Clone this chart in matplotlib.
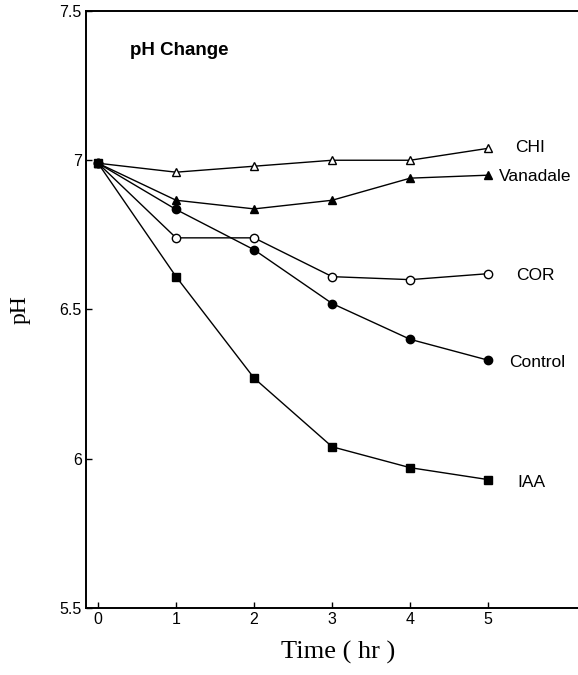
import matplotlib
matplotlib.use("Agg")
import matplotlib.pyplot as plt

# time points (hr) and pH readings
TIME = [0, 1, 2, 3, 4, 5]
CHI      = [6.99, 6.96, 6.98, 7.00, 7.00, 7.04]
VANADALE = [6.99, 6.866, 6.837, 6.866, 6.94, 6.95]
COR      = [6.99, 6.74, 6.74, 6.61, 6.60, 6.62]
CONTROL  = [6.99, 6.835, 6.70, 6.52, 6.40, 6.33]
IAA      = [6.99, 6.61, 6.27, 6.04, 5.97, 5.93]

SERIES = [
    ("CHI",      CHI,      "^", "white"),
    ("Vanadale", VANADALE, "^", "black"),
    ("COR",      COR,      "o", "white"),
    ("Control",  CONTROL,  "o", "black"),
    ("IAA",      IAA,      "s", "black"),
]
LABEL_POS = {
    "CHI":      (5.35, 7.044),
    "Vanadale": (5.14, 6.946),
    "COR":      (5.36, 6.614),
    "Control":  (5.27, 6.322),
    "IAA":      (5.37, 5.919),
}

SANS = ["Liberation Sans", "DejaVu Sans"]
SERIF = ["Liberation Serif", "DejaVu Serif"]

fig = plt.figure(figsize=(5.78, 6.75), dpi=100)
ax = fig.add_axes([0.1488, 0.0993, 0.8512, 0.8844])

for name, ys, mk, fc in SERIES:
    ax.plot(TIME, ys, color="black", linewidth=1.0, marker=mk,
            markersize=6 if mk != "s" else 6.3, markerfacecolor=fc,
            markeredgecolor="black", markeredgewidth=1.0)
    lx, ly = LABEL_POS[name]
    ax.text(lx, ly, name, ha="left", va="center", fontsize=12.5, family=SANS)

ax.set_xlim(-0.154, 6.15)
ax.set_ylim(5.5, 7.5)
ax.set_xticks(TIME)
ax.set_xticklabels([str(t) for t in TIME], family=SANS, fontsize=11.5)
ax.set_yticks([5.5, 6, 6.5, 7, 7.5])
ax.set_yticklabels(["5.5", "6", "6.5", "7", "7.5"], family=SANS, fontsize=11.5)
ax.tick_params(direction="in", length=4, width=1.0, pad=3)

ax.spines["right"].set_visible(False)
for s in ("left", "bottom", "top"):
    ax.spines[s].set_linewidth(1.4)

ax.text(0.41, 7.369, "pH Change", ha="left", va="center", fontsize=13.5,
        fontweight="bold", family=SANS)

fig.text(0.035, 0.542, "pH", rotation=90, ha="center", va="center",
         fontsize=17, family=SERIF)
fig.text(0.585, 0.033, "Time ( hr )", ha="center", va="center",
         fontsize=19, family=SERIF)

fig.savefig("out.png", dpi=100, facecolor="white")
